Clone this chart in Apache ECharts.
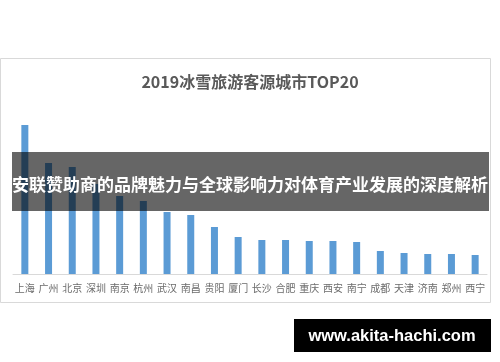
<!DOCTYPE html>
<html>
<head>
<meta charset="utf-8">
<script src="https://cdn.jsdelivr.net/npm/echarts@6/dist/echarts.min.js"></script>
<style>html,body{margin:0;padding:0;background:#fff;}#c{width:500px;height:362px;}</style>
</head>
<body>
<div id="c"></div>
<script>
const titleText = '2019冰雪旅游客源城市TOP20';
const cities = ['上海','广州','北京','深圳','南京','杭州','武汉','南昌','贵阳','厦门','长沙','合肥','重庆','西安','南宁','成都','天津','济南','郑州','西宁'];
const values = [149,111,107,90,78,73,62,59,47,37,34,34,33,33,32,23,21,20,20,19];
const bannerText = '安联赞助商的品牌魅力与全球影响力对体育产业发展的深度解析';
const watermarkText = 'www.akita-hachi.com';

const chart = echarts.init(document.getElementById('c'));
chart.setOption({
  animation: false,
  backgroundColor: '#fff',
  title: {
    text: titleText,
    left: 'center',
    top: 69,
    textStyle: {fontFamily: '"Noto Sans CJK SC", sans-serif', fontSize: 16, fontWeight: 'bold', color: '#595959'}
  },
  grid: {left: 13, right: 13, top: 124, bottom: 88},
  xAxis: {
    type: 'category',
    data: cities,
    axisLine: {lineStyle: {color: '#d9d9d9'}},
    axisTick: {show: false},
    axisLabel: {color: '#6b6b6b', fontSize: 10, margin: 9, interval: 0, fontFamily: '"Noto Sans CJK SC", sans-serif'}
  },
  yAxis: {type: 'value', min: 0, max: 150, show: false, splitLine: {show: false}},
  series: [{
    type: 'bar',
    data: values,
    barWidth: 7,
    itemStyle: {color: '#5b9bd5'}
  }],
  graphic: [
    {type: 'rect', z: 1, silent: true, shape: {x: 0.5, y: 58.5, width: 490, height: 244}, style: {fill: 'none', stroke: '#d9d9d9', lineWidth: 1}},
    {type: 'rect', z: 100, shape: {x: 12, y: 152, width: 477, height: 59}, style: {fill: 'rgba(0,0,0,0.6)'}},
    {type: 'text', z: 101, x: 250, y: 185, style: {text: bannerText, fill: '#fff', font: 'bold 17px "Noto Sans CJK SC", sans-serif', align: 'center', verticalAlign: 'middle'}},
    {type: 'rect', z: 100, shape: {x: 294, y: 319, width: 197, height: 33}, style: {fill: '#000'}},
    {type: 'text', z: 101, x: 392, y: 336, style: {text: watermarkText, fill: '#fff', font: 'bold 16.5px "Liberation Sans", Arial, sans-serif', align: 'center', verticalAlign: 'middle'}}
  ]
});
</script>
</body>
</html>
